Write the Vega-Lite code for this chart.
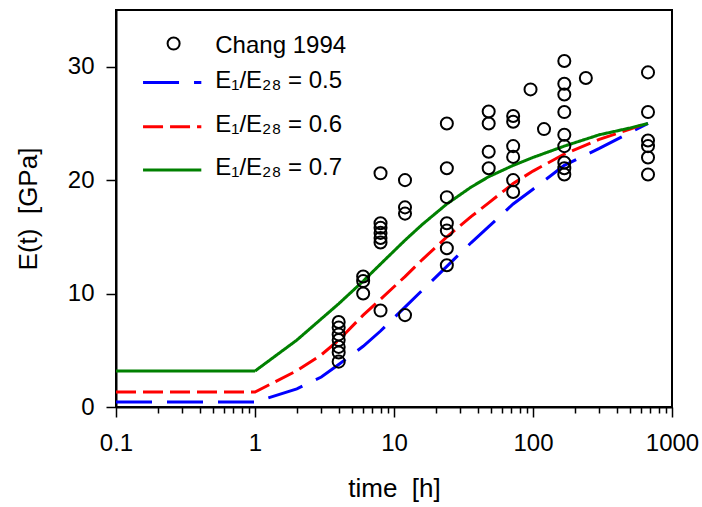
{
  "$schema": "https://vega.github.io/schema/vega-lite/v6.json",
  "width": 556,
  "height": 397,
  "autosize": {"type": "none"},
  "padding": {"left": 116, "top": 10, "right": 30, "bottom": 100},
  "background": "white",
  "config": {
    "view": {"stroke": "black", "strokeWidth": 2},
    "font": "Liberation Sans",
    "axis": {
      "grid": false,
      "domainColor": "black",
      "domainWidth": 2,
      "tickColor": "black",
      "tickWidth": 1.5,
      "labelColor": "black",
      "labelFont": "Liberation Sans",
      "labelFontSize": 24,
      "titleFont": "Liberation Sans",
      "titleFontSize": 26,
      "titleFontWeight": "normal",
      "titleColor": "black",
      "labelFlush": false,
      "labelOverlap": false
    }
  },
  "datasets": {
    "curves": [
      {"t": 0.1, "E": 0.44, "series": "0.5"},
      {"t": 1, "E": 0.44, "series": "0.5"},
      {"t": 2, "E": 1.6, "series": "0.5"},
      {"t": 3, "E": 2.64, "series": "0.5"},
      {"t": 4, "E": 3.75, "series": "0.5"},
      {"t": 6, "E": 5.35, "series": "0.5"},
      {"t": 8, "E": 6.7, "series": "0.5"},
      {"t": 12, "E": 8.8, "series": "0.5"},
      {"t": 16, "E": 10.3, "series": "0.5"},
      {"t": 24, "E": 12.4, "series": "0.5"},
      {"t": 36, "E": 14.5, "series": "0.5"},
      {"t": 48, "E": 15.9, "series": "0.5"},
      {"t": 72, "E": 17.9, "series": "0.5"},
      {"t": 100, "E": 19.2, "series": "0.5"},
      {"t": 168, "E": 21.3, "series": "0.5"},
      {"t": 300, "E": 22.8, "series": "0.5"},
      {"t": 500, "E": 24.2, "series": "0.5"},
      {"t": 672, "E": 25.0, "series": "0.5"},
      {"t": 0.1, "E": 1.32, "series": "0.6"},
      {"t": 1, "E": 1.32, "series": "0.6"},
      {"t": 2, "E": 3.2, "series": "0.6"},
      {"t": 3, "E": 4.6, "series": "0.6"},
      {"t": 4, "E": 5.9, "series": "0.6"},
      {"t": 6, "E": 8.1, "series": "0.6"},
      {"t": 8, "E": 9.5, "series": "0.6"},
      {"t": 12, "E": 11.5, "series": "0.6"},
      {"t": 16, "E": 13.0, "series": "0.6"},
      {"t": 24, "E": 15.0, "series": "0.6"},
      {"t": 36, "E": 16.8, "series": "0.6"},
      {"t": 48, "E": 18.0, "series": "0.6"},
      {"t": 72, "E": 19.7, "series": "0.6"},
      {"t": 100, "E": 20.8, "series": "0.6"},
      {"t": 168, "E": 22.3, "series": "0.6"},
      {"t": 300, "E": 23.6, "series": "0.6"},
      {"t": 500, "E": 24.5, "series": "0.6"},
      {"t": 672, "E": 25.05, "series": "0.6"},
      {"t": 0.1, "E": 3.17, "series": "0.7"},
      {"t": 1, "E": 3.17, "series": "0.7"},
      {"t": 2, "E": 5.9, "series": "0.7"},
      {"t": 4, "E": 9.1, "series": "0.7"},
      {"t": 6, "E": 11.1, "series": "0.7"},
      {"t": 8, "E": 12.6, "series": "0.7"},
      {"t": 12, "E": 14.7, "series": "0.7"},
      {"t": 16, "E": 16.1, "series": "0.7"},
      {"t": 24, "E": 17.9, "series": "0.7"},
      {"t": 36, "E": 19.4, "series": "0.7"},
      {"t": 48, "E": 20.3, "series": "0.7"},
      {"t": 72, "E": 21.3, "series": "0.7"},
      {"t": 100, "E": 22.0, "series": "0.7"},
      {"t": 168, "E": 23.0, "series": "0.7"},
      {"t": 300, "E": 24.0, "series": "0.7"},
      {"t": 500, "E": 24.6, "series": "0.7"},
      {"t": 672, "E": 25.0, "series": "0.7"}
    ],
    "legendLines": [
      {"t": 0.1565, "E": 28.61, "series": "0.5"},
      {"t": 0.411, "E": 28.61, "series": "0.5"},
      {"t": 0.1565, "E": 24.7, "series": "0.6"},
      {"t": 0.411, "E": 24.7, "series": "0.6"},
      {"t": 0.1565, "E": 20.9, "series": "0.7"},
      {"t": 0.411, "E": 20.9, "series": "0.7"}
    ],
    "legendPoint": [{"t": 0.2597, "E": 32.04}],
    "legendText": [
      {"t": 0.518, "E": 31.22, "label": "Chang 1994"},
      {"t": 0.518, "E": 28.14, "label": "E₁/E₂₈ = 0.5"},
      {"t": 0.518, "E": 24.27, "label": "E₁/E₂₈ = 0.6"},
      {"t": 0.518, "E": 20.49, "label": "E₁/E₂₈ = 0.7"}
    ],
    "chang": [
      {"t": 4, "E": 7.5}, {"t": 4, "E": 7.0}, {"t": 4, "E": 6.4}, {"t": 4, "E": 5.9}, {"t": 4, "E": 5.3}, {"t": 4, "E": 4.8}, {"t": 4, "E": 4.0},
      {"t": 6, "E": 11.5}, {"t": 6, "E": 11.1}, {"t": 6, "E": 10.0},
      {"t": 8, "E": 20.6}, {"t": 8, "E": 16.2}, {"t": 8, "E": 15.8}, {"t": 8, "E": 15.35}, {"t": 8, "E": 14.9}, {"t": 8, "E": 14.5}, {"t": 8, "E": 8.5},
      {"t": 12, "E": 20.0}, {"t": 12, "E": 17.6}, {"t": 12, "E": 17.05}, {"t": 12, "E": 8.1},
      {"t": 24, "E": 25.0}, {"t": 24, "E": 21.05}, {"t": 24, "E": 18.5}, {"t": 24, "E": 16.2}, {"t": 24, "E": 15.55}, {"t": 24, "E": 14.0}, {"t": 24, "E": 12.5},
      {"t": 48, "E": 26.05}, {"t": 48, "E": 25.0}, {"t": 48, "E": 22.5}, {"t": 48, "E": 21.05},
      {"t": 72, "E": 25.65}, {"t": 72, "E": 25.15}, {"t": 72, "E": 23.0}, {"t": 72, "E": 22.05}, {"t": 72, "E": 20.0}, {"t": 72, "E": 18.95},
      {"t": 96, "E": 28.0},
      {"t": 120, "E": 24.5},
      {"t": 168, "E": 30.5}, {"t": 168, "E": 28.5}, {"t": 168, "E": 27.55}, {"t": 168, "E": 26.0}, {"t": 168, "E": 24.0}, {"t": 168, "E": 23.0}, {"t": 168, "E": 21.55}, {"t": 168, "E": 21.05}, {"t": 168, "E": 20.5},
      {"t": 240, "E": 29.0},
      {"t": 672, "E": 29.5}, {"t": 672, "E": 26.0}, {"t": 672, "E": 23.5}, {"t": 672, "E": 23.0}, {"t": 672, "E": 22.0}, {"t": 672, "E": 20.5}
    ]
  },
  "encoding": {
    "x": {
      "field": "t",
      "type": "quantitative",
      "scale": {"type": "log", "domain": [0.1, 1000], "nice": false},
      "axis": {
        "title": "time\u00a0 [h]",
        "values": [0.1, 0.2, 0.3, 0.4, 0.5, 0.6, 0.7, 0.8, 0.9, 1, 2, 3, 4, 5, 6, 7, 8, 9, 10, 20, 30, 40, 50, 60, 70, 80, 90, 100, 200, 300, 400, 500, 600, 700, 800, 900, 1000],
        "labelExpr": "abs(log(datum.value)/LN10 - round(log(datum.value)/LN10)) < 0.001 ? format(datum.value, '~g') : ''",
        "tickSize": {"condition": {"test": "abs(log(datum.value)/LN10 - round(log(datum.value)/LN10)) < 0.001", "value": 10}, "value": 6},
        "labelPadding": 14,
        "titlePadding": 20
      }
    },
    "y": {
      "field": "E",
      "type": "quantitative",
      "scale": {"domain": [0, 35], "nice": false},
      "axis": {
        "title": "E(t)\u00a0 [GPa]",
        "values": [0, 10, 20, 30],
        "tickSize": 10,
        "labelPadding": 12,
        "titlePadding": 26
      }
    }
  },
  "layer": [
    {
      "data": {"name": "curves"},
      "mark": {"type": "line", "strokeWidth": 3, "clip": true},
      "encoding": {
        "color": {"field": "series", "type": "nominal", "scale": {"domain": ["0.5", "0.6", "0.7"], "range": ["#0000ff", "#ff0000", "#008000"]}, "legend": null},
        "strokeDash": {"field": "series", "type": "nominal", "scale": {"domain": ["0.5", "0.6", "0.7"], "range": [[36, 15], [20, 7], [1, 0]]}, "legend": null},
        "detail": {"field": "series"}
      }
    },
    {
      "data": {"name": "legendLines"},
      "mark": {"type": "line", "strokeWidth": 3},
      "encoding": {
        "color": {"field": "series", "type": "nominal", "legend": null},
        "strokeDash": {"field": "series", "type": "nominal", "legend": null},
        "detail": {"field": "series"}
      }
    },
    {
      "data": {"name": "chang"},
      "mark": {"type": "point", "shape": "circle", "filled": false, "stroke": "black", "strokeWidth": 2, "size": 145, "opacity": 1}
    },
    {
      "data": {"name": "legendPoint"},
      "mark": {"type": "point", "shape": "circle", "filled": false, "stroke": "black", "strokeWidth": 2, "size": 145, "opacity": 1}
    },
    {
      "data": {"name": "legendText"},
      "mark": {"type": "text", "align": "left", "baseline": "alphabetic", "fontSize": 24, "font": "Liberation Sans", "color": "black"},
      "encoding": {"text": {"field": "label"}}
    }
  ]
}
